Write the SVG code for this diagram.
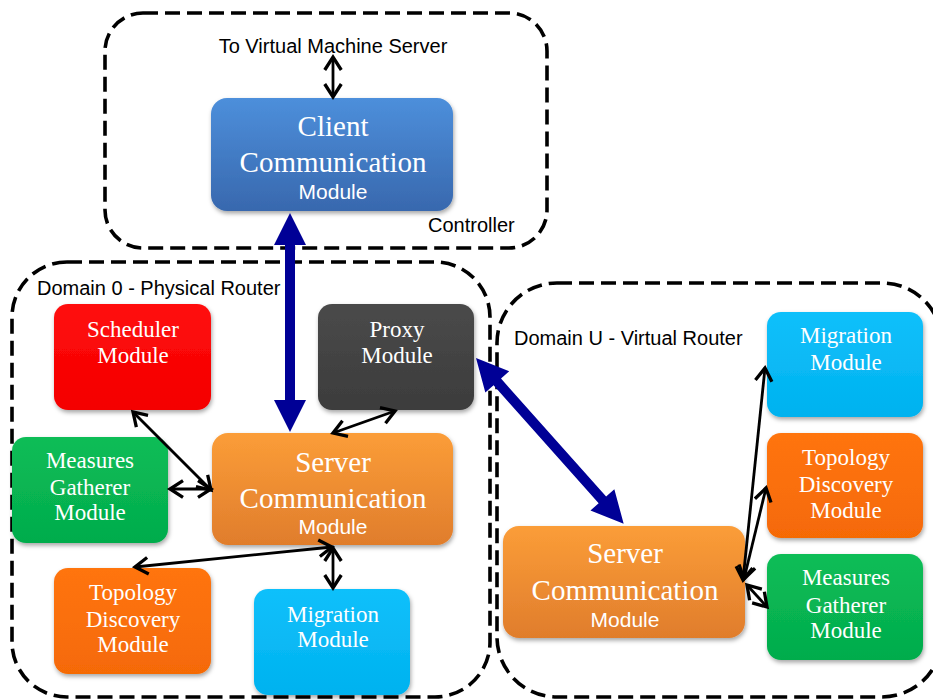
<svg xmlns="http://www.w3.org/2000/svg" width="933" height="700" viewBox="0 0 933 700">
  <style>
    .frame { fill: none; stroke: #000; stroke-width: 3.6; stroke-dasharray: 15 7; }
    .label { font-family: "Liberation Sans", Arial, sans-serif; font-size: 20px; fill: #000; }
    .box { filter: url(#shadow); }
    .name { font-family: "Liberation Serif", "Times New Roman", serif; font-size: 23px; fill: #fff; text-anchor: middle; }
    .big { font-family: "Liberation Serif", "Times New Roman", serif; font-size: 29px; fill: #fff; text-anchor: middle; }
    .sub { font-family: "Liberation Sans", Arial, sans-serif; font-size: 21px; fill: #fff; text-anchor: middle; }
    .link { stroke: #000; stroke-width: 2.8; fill: none; marker-start: url(#chev); marker-end: url(#chev); }
    .thick { fill: #000096; }
  </style>
  <defs>
    <filter id="shadow" x="-10%" y="-10%" width="125%" height="130%">
      <feDropShadow dx="1" dy="2.5" stdDeviation="2" flood-color="#000" flood-opacity="0.35"/>
    </filter>
    <linearGradient id="gBlue" x1="0" y1="0" x2="0" y2="1">
      <stop offset="0" stop-color="#4d8fdb"/>
      <stop offset="1" stop-color="#3868ae"/>
    </linearGradient>
    <linearGradient id="gRed" x1="0" y1="0" x2="0" y2="1">
      <stop offset="0" stop-color="#ff0c0c"/>
      <stop offset="1" stop-color="#f40000"/>
    </linearGradient>
    <linearGradient id="gGray" x1="0" y1="0" x2="0" y2="1">
      <stop offset="0" stop-color="#4a4a4a"/>
      <stop offset="1" stop-color="#3c3c3c"/>
    </linearGradient>
    <linearGradient id="gGreen" x1="0" y1="0" x2="0" y2="1">
      <stop offset="0" stop-color="#0abd57"/>
      <stop offset="1" stop-color="#04ac4c"/>
    </linearGradient>
    <linearGradient id="gOrange" x1="0" y1="0" x2="0" y2="1">
      <stop offset="0" stop-color="#fb9d38"/>
      <stop offset="1" stop-color="#e07d2c"/>
    </linearGradient>
    <linearGradient id="gTopo" x1="0" y1="0" x2="0" y2="1">
      <stop offset="0" stop-color="#ff7410"/>
      <stop offset="1" stop-color="#f56a06"/>
    </linearGradient>
    <linearGradient id="gCyan" x1="0" y1="0" x2="0" y2="1">
      <stop offset="0" stop-color="#10c0fb"/>
      <stop offset="1" stop-color="#00b2ef"/>
    </linearGradient>
    <!-- open chevron head shared by all thin double-ended links -->
    <marker id="chev" markerUnits="userSpaceOnUse" markerWidth="26" markerHeight="26" viewBox="-15 -11 18 22" refX="0" refY="0" orient="auto-start-reverse">
      <path d="M-11,-7 L0,0 L-11,7" fill="none" stroke="#000" stroke-width="2.8" stroke-linejoin="miter"/>
    </marker>
  </defs>

  <!-- dashed enclosures -->
  <g id="controller-frame">
    <rect class="frame" x="105" y="13" width="442" height="235" rx="38"/>
    <text class="label" x="428" y="232" font-size="21">Controller</text>
  </g>
  <g id="domain0-frame">
    <rect class="frame" x="12" y="262" width="478" height="435" rx="55"/>
    <text class="label" x="37" y="295">Domain 0 - Physical Router</text>
  </g>
  <g id="domainU-frame">
    <rect class="frame" x="497" y="283" width="445" height="414" rx="60"/>
    <text class="label" x="514" y="345">Domain U - Virtual Router</text>
  </g>
  <text class="label" x="333" y="53" text-anchor="middle">To Virtual Machine Server</text>

  <!-- modules -->
  <g id="client-comm">
    <rect class="box" x="211" y="98" width="242" height="113" rx="16" fill="url(#gBlue)"/>
    <text class="big" x="333" y="136">Client</text>
    <text class="big" x="333" y="172">Communication</text>
    <text class="sub" x="333" y="199">Module</text>
  </g>
  <g id="scheduler">
    <rect class="box" x="54" y="304" width="157" height="106" rx="14" fill="url(#gRed)"/>
    <text class="name" x="133" y="337">Scheduler</text>
    <text class="name" x="133" y="363">Module</text>
  </g>
  <g id="proxy">
    <rect class="box" x="318" y="304" width="156" height="106" rx="14" fill="url(#gGray)"/>
    <text class="name" x="397" y="337">Proxy</text>
    <text class="name" x="397" y="363">Module</text>
  </g>
  <g id="measures-d0">
    <rect class="box" x="12" y="437" width="156" height="106" rx="14" fill="url(#gGreen)"/>
    <text class="name" x="90" y="468">Measures</text>
    <text class="name" x="90" y="495">Gatherer</text>
    <text class="name" x="90" y="520">Module</text>
  </g>
  <g id="server-comm-d0">
    <rect class="box" x="212" y="433" width="241" height="112" rx="16" fill="url(#gOrange)"/>
    <text class="big" x="333" y="472">Server</text>
    <text class="big" x="333" y="508">Communication</text>
    <text class="sub" x="333" y="534">Module</text>
  </g>
  <g id="topology-d0">
    <rect class="box" x="54" y="568" width="157" height="106" rx="14" fill="url(#gTopo)"/>
    <text class="name" x="133" y="600">Topology</text>
    <text class="name" x="133" y="627">Discovery</text>
    <text class="name" x="133" y="652">Module</text>
  </g>
  <g id="migration-d0">
    <rect class="box" x="254" y="589" width="156" height="106" rx="14" fill="url(#gCyan)"/>
    <text class="name" x="333" y="622">Migration</text>
    <text class="name" x="333" y="647">Module</text>
  </g>
  <g id="migration-du">
    <rect class="box" x="767" y="312" width="156" height="105" rx="14" fill="url(#gCyan)"/>
    <text class="name" x="846" y="343">Migration</text>
    <text class="name" x="846" y="370">Module</text>
  </g>
  <g id="topology-du">
    <rect class="box" x="767" y="433" width="156" height="105" rx="14" fill="url(#gTopo)"/>
    <text class="name" x="846" y="465">Topology</text>
    <text class="name" x="846" y="492">Discovery</text>
    <text class="name" x="846" y="518">Module</text>
  </g>
  <g id="measures-du">
    <rect class="box" x="767" y="554" width="156" height="106" rx="14" fill="url(#gGreen)"/>
    <text class="name" x="846" y="585">Measures</text>
    <text class="name" x="846" y="613">Gatherer</text>
    <text class="name" x="846" y="638">Module</text>
  </g>
  <g id="server-comm-du">
    <rect class="box" x="503" y="526" width="242" height="112" rx="16" fill="url(#gOrange)"/>
    <text class="big" x="625" y="563">Server</text>
    <text class="big" x="625" y="600">Communication</text>
    <text class="sub" x="625" y="627">Module</text>
  </g>

  <!-- connectors -->
  <g id="connectors">
    <!-- thick double arrows, drawn along local x then rotated -->
    <polygon class="thick" transform="translate(290,213) rotate(90)"
      points="0,0 32,-16 32,-5 187,-5 187,-16 219,0 187,16 187,5 32,5 32,16"/>
    <polygon class="thick" transform="translate(476,358) rotate(48.3)"
      points="0,0 32,-16 32,-5 190,-5 190,-16 222,0 190,16 190,5 32,5 32,16"/>
    <!-- thin links -->
    <line class="link" x1="333" y1="57" x2="333" y2="97"/>
    <line class="link" x1="133" y1="412" x2="211" y2="490"/>
    <line class="link" x1="170" y1="489" x2="211" y2="489"/>
    <line class="link" x1="395" y1="411" x2="333" y2="433"/>
    <line class="link" x1="135" y1="567" x2="332" y2="547"/>
    <line class="link" x1="333" y1="548" x2="333" y2="588"/>
    <line class="link" x1="743" y1="580" x2="765" y2="368"/>
    <line class="link" x1="744" y1="579" x2="766" y2="488"/>
    <line class="link" x1="747" y1="585" x2="767" y2="607"/>
  </g>
</svg>
